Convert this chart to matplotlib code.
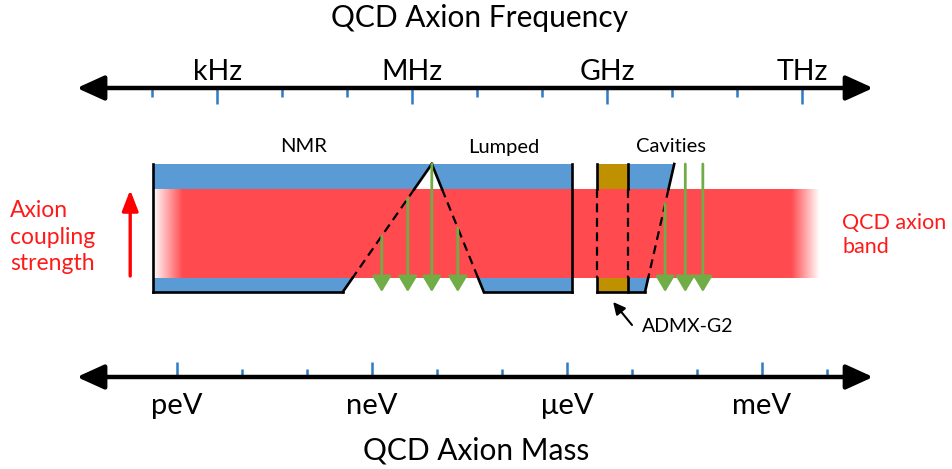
import numpy as np
import matplotlib.pyplot as plt
from matplotlib.patches import Polygon, Rectangle

plt.rcParams['font.family'] = ['Lato', 'DejaVu Sans']

H_EV_S = 4.135667696e-15  # Planck constant in eV*s, converts frequency to mass

# === Axes data (log10 of mass in eV, log10 of frequency in Hz) ===
mass_ticks = np.arange(-12, -1)
mass_major = [-12, -9, -6, -3]
mass_labels = ['peV', 'neV', '\u03bceV', 'meV']

freq_ticks = np.arange(2, 13)
freq_major = [3, 6, 9, 12]
freq_labels = ['kHz', 'MHz', 'GHz', 'THz']

axis_span = [-13.54, -1.29]

# === Search regions, log10(m / eV) ===
nmr_edge = -12.37
lumped_apex = -8.08
lumped_lo = -9.45
lumped_hi = -7.28
lumped_edge = -5.92
admx_lo, admx_hi = -5.54, -5.06
cavity_top, cavity_bottom = -4.35, -4.80

# QCD band with faded ends
band_knots = [-12.34, -11.92, -2.54, -2.11]
band_alpha = [0.08, 1.0, 1.0, 0.0]

# scanned frequencies (green arrows)
scan_arrows = [-8.85, -8.45, -8.08, -7.68, -4.49, -4.18, -3.91]

region_names = ['NMR', 'Lumped', 'Cavities']
region_label_x = [-10.06, -6.98, -4.40]

# === Layout (vertical, pixel units) ===
TOP, RED_TOP, RED_BOT, BOT = 164, 189, 278, 292
FREQ_Y, MASS_Y = 88, 377

BLUE = '#5b9bd5'
RED = '#ff4b4f'
GOLD = '#bf9000'
GREEN = '#70ad47'
TICK = '#2e7bc4'
TEXT_RED = '#ff1a1a'

fig = plt.figure(figsize=(9.52, 4.69), dpi=100)
ax = fig.add_axes([0, 0, 1, 1])
xlim = -12 + (np.array([0, 952]) - 177) / 65.0

# --- blue / gold regions ---
ax.add_patch(Polygon([(nmr_edge, TOP), (lumped_apex, TOP), (lumped_lo, BOT), (nmr_edge, BOT)],
                     closed=True, fc=BLUE, ec='none', zorder=1))
ax.add_patch(Polygon([(lumped_apex, TOP), (lumped_edge, TOP), (lumped_edge, BOT), (lumped_hi, BOT)],
                     closed=True, fc=BLUE, ec='none', zorder=1))
ax.add_patch(Rectangle((admx_lo, TOP), admx_hi - admx_lo, BOT - TOP, fc=GOLD, ec='none', zorder=1))
ax.add_patch(Polygon([(admx_hi, TOP), (cavity_top, TOP), (cavity_bottom, BOT), (admx_hi, BOT)],
                     closed=True, fc=BLUE, ec='none', zorder=1))

# white under the band so the faded ends show paper, not blue
ax.add_patch(Rectangle((nmr_edge, RED_TOP), band_knots[-1] - nmr_edge, RED_BOT - RED_TOP,
                       fc='white', ec='none', zorder=1.5))

# --- red QCD band with fading ends ---
xs = np.linspace(band_knots[0], band_knots[-1], 800)
rgba = np.zeros((1, xs.size, 4))
rgba[..., :3] = plt.matplotlib.colors.to_rgb(RED)
rgba[0, :, 3] = np.interp(xs, band_knots, band_alpha)
ax.imshow(rgba, extent=(xs[0], xs[-1], RED_BOT, RED_TOP), aspect='auto',
          interpolation='bilinear', zorder=2)


def edge(x0, y0, x1, y1):
    # solid where it crosses blue, dashed inside the red band
    def x_at(y):
        return x0 + (x1 - x0) * (y - y0) / (y1 - y0)
    if y0 == y1:
        ax.plot([x0, x1], [y0, y1], color='k', lw=1.9, zorder=3, solid_capstyle='projecting')
        return
    ax.plot([x_at(TOP), x_at(RED_TOP)], [TOP, RED_TOP], color='k', lw=1.9, zorder=3)
    ax.plot([x_at(RED_TOP), x_at(RED_BOT)], [RED_TOP, RED_BOT], color='k', lw=1.6,
            dashes=(4, 2.5), zorder=3)
    ax.plot([x_at(RED_BOT), x_at(BOT)], [RED_BOT, BOT], color='k', lw=1.9, zorder=3)


# outlines
ax.plot([nmr_edge, nmr_edge], [TOP, BOT], color='k', lw=1.9, zorder=3)
edge(nmr_edge, BOT, lumped_lo, BOT)
edge(lumped_lo, BOT, lumped_apex, TOP)
edge(lumped_apex, TOP, lumped_hi, BOT)
edge(lumped_hi, BOT, lumped_edge, BOT)
ax.plot([lumped_edge, lumped_edge], [TOP, BOT], color='k', lw=1.9, zorder=3)
edge(admx_lo, TOP, admx_lo, BOT)
edge(admx_lo, BOT, cavity_bottom, BOT)
edge(admx_hi, TOP, admx_hi, BOT)
edge(cavity_top, TOP, cavity_bottom, BOT)


def y_on(xa, ya, xb, yb, x):
    return ya + (yb - ya) * (x - xa) / (xb - xa)


# green scan arrows
for x in scan_arrows:
    if x <= lumped_apex:
        y0 = y_on(lumped_lo, BOT, lumped_apex, TOP, x)
    elif x <= lumped_hi:
        y0 = y_on(lumped_apex, TOP, lumped_hi, BOT, x)
    elif x <= cavity_top:
        y0 = y_on(cavity_top, TOP, cavity_bottom, BOT, x)
    else:
        y0 = TOP
    y0 = max(TOP, y0)
    ax.annotate('', xy=(x, BOT), xytext=(x, y0),
                arrowprops=dict(arrowstyle='-|>,head_length=0.6,head_width=0.36',
                                mutation_scale=16, lw=2.0, color=GREEN,
                                shrinkA=0, shrinkB=0), zorder=4)

# --- frequency axis (top) ---
freq_x = freq_ticks + np.log10(H_EV_S)
ax.annotate('', xy=(axis_span[1], FREQ_Y), xytext=(axis_span[0], FREQ_Y),
            arrowprops=dict(arrowstyle='<|-|>,head_length=1.1,head_width=0.5',
                            mutation_scale=15, lw=3.2, color='k', shrinkA=0, shrinkB=0))
for f, x in zip(freq_ticks, freq_x):
    ax.plot([x, x], [FREQ_Y, FREQ_Y + (16 if f in freq_major else 9)], color=TICK, lw=1.8,
            solid_capstyle='butt', zorder=0)
for f, lab in zip(freq_major, freq_labels):
    ax.text(f + np.log10(H_EV_S), 72, lab, ha='center', va='center', fontsize=20.5)
ax.text(np.mean(xlim) + 0.06, 18, 'QCD Axion Frequency', ha='center', va='center', fontsize=21.5)

# --- mass axis (bottom) ---
ax.annotate('', xy=(axis_span[1], MASS_Y), xytext=(axis_span[0], MASS_Y),
            arrowprops=dict(arrowstyle='<|-|>,head_length=1.1,head_width=0.5',
                            mutation_scale=15, lw=3.2, color='k', shrinkA=0, shrinkB=0))
for m in mass_ticks:
    ax.plot([m, m], [MASS_Y, MASS_Y - (15 if m in mass_major else 8)], color=TICK, lw=1.8,
            solid_capstyle='butt', zorder=0)
for m, lab in zip(mass_major, mass_labels):
    ax.text(m, 406, lab, ha='center', va='center', fontsize=21)
ax.text(np.mean(xlim), 450, 'QCD Axion Mass', ha='center', va='center', fontsize=21.5)

# --- region labels ---
for x, name in zip(region_label_x, region_names):
    ax.text(x, 147, name, ha='center', va='center', fontsize=14.5)

ax.text(-4.85, 327, 'ADMX-G2', ha='left', va='center', fontsize=14)
ax.annotate('', xy=(-5.29, 302), xytext=(-5.0, 325),
            arrowprops=dict(arrowstyle='-|>,head_length=0.6,head_width=0.3',
                            mutation_scale=12, lw=1.5, color='k', shrinkA=0, shrinkB=0))

# --- coupling arrow and band labels ---
ax.annotate('', xy=(-12.72, 190), xytext=(-12.72, 276),
            arrowprops=dict(arrowstyle='-|>,head_length=0.9,head_width=0.35',
                            mutation_scale=14, lw=2.4, color='red', shrinkA=0, shrinkB=0))
fig.text(10 / 952, 1 - 237 / 469, 'Axion\ncoupling\nstrength', ha='left', va='center',
         fontsize=16.5, color=TEXT_RED, linespacing=1.3)
fig.text(842 / 952, 1 - 235 / 469, 'QCD axion\nband', ha='left', va='center',
         fontsize=15.5, color=TEXT_RED, linespacing=1.3)

ax.set_xlim(*xlim)
ax.set_ylim(469, 0)
ax.axis('off')

fig.savefig('out.png', dpi=100)
